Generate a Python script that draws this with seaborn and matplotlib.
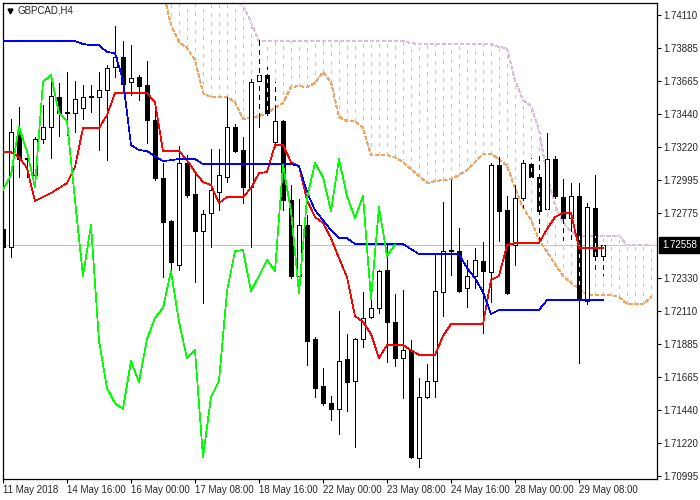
import matplotlib
matplotlib.use("Agg")
import matplotlib.pyplot as plt
import matplotlib.transforms as mtransforms
import numpy as np
import pandas as pd
import seaborn as sns

# GBPCAD H4 candles, bar 0 = leftmost bar
opens = [
    1.72664, 1.72543, 1.73320, 1.73144, 1.73029, 1.73272, 1.73354, 1.73556, 1.73448, 1.73448,
    1.73482, 1.73556, 1.73556, 1.73603, 1.73759, 1.73826, 1.73657, 1.73691, 1.73637, 1.73401,
    1.73009, 1.72718, 1.72421, 1.73110, 1.72901, 1.72651, 1.72772, 1.72914, 1.73015, 1.73354,
    1.73198, 1.72948, 1.73664, 1.73705, 1.73252, 1.73394, 1.72860, 1.72346, 1.72691, 1.71921,
    1.71603, 1.71488, 1.71448, 1.71786, 1.71637, 1.71921, 1.72070, 1.72130, 1.72387, 1.72036,
    1.71792, 1.71846, 1.71116, 1.71529, 1.71637, 1.72238, 1.72516, 1.72516, 1.72265, 1.72346,
    1.72448, 1.72374, 1.73096, 1.72792, 1.72556, 1.72874, 1.73103, 1.73015, 1.72799, 1.73137,
    1.72880, 1.72738, 1.72887, 1.72178, 1.72806, 1.72482]
highs = [
    1.72772, 1.73408, 1.73488, 1.73184, 1.73285, 1.73502, 1.73705, 1.73651, 1.73725, 1.73664,
    1.73637, 1.73637, 1.73725, 1.73772, 1.74036, 1.73934, 1.73907, 1.73705, 1.73799, 1.73529,
    1.73110, 1.72725, 1.73225, 1.73164, 1.73042, 1.72792, 1.73205, 1.73205, 1.73556, 1.73374,
    1.73285, 1.73684, 1.73941, 1.73759, 1.73657, 1.73401, 1.72961, 1.72867, 1.72759, 1.71934,
    1.71725, 1.71536, 1.72110, 1.71955, 1.71928, 1.72238, 1.72184, 1.72387, 1.72556, 1.72225,
    1.72252, 1.71914, 1.71657, 1.71752, 1.72488, 1.72847, 1.72995, 1.72671, 1.72455, 1.72536,
    1.72576, 1.73110, 1.73150, 1.72887, 1.72961, 1.73144, 1.73144, 1.73157, 1.73313, 1.73157,
    1.73002, 1.72975, 1.72975, 1.72840, 1.73029, 1.72563]
lows = [
    1.72238, 1.72475, 1.73015, 1.73015, 1.72948, 1.73245, 1.73144, 1.73292, 1.73299, 1.73320,
    1.73408, 1.73455, 1.73198, 1.73130, 1.73691, 1.73617, 1.73570, 1.73536, 1.73245, 1.72995,
    1.72340, 1.72374, 1.72387, 1.72880, 1.72306, 1.72164, 1.72543, 1.72792, 1.72982, 1.73184,
    1.72840, 1.72543, 1.73354, 1.73434, 1.73218, 1.72792, 1.72333, 1.72232, 1.71745, 1.71529,
    1.71475, 1.71373, 1.71279, 1.71434, 1.71191, 1.71867, 1.72063, 1.72097, 1.71765, 1.71738,
    1.71522, 1.71116, 1.71056, 1.71522, 1.71529, 1.72076, 1.72353, 1.72238, 1.72137, 1.72265,
    1.71961, 1.72171, 1.72583, 1.72225, 1.72421, 1.72813, 1.72995, 1.72590, 1.72779, 1.72874,
    1.72590, 1.72590, 1.71759, 1.72157, 1.72387, 1.72353]
closes = [
    1.72543, 1.73320, 1.73137, 1.73137, 1.73272, 1.73354, 1.73563, 1.73448, 1.73455, 1.73542,
    1.73556, 1.73563, 1.73603, 1.73752, 1.73826, 1.73644, 1.73684, 1.73630, 1.73401, 1.73009,
    1.72711, 1.72441, 1.73110, 1.72894, 1.72651, 1.72765, 1.72928, 1.73029, 1.73354, 1.73191,
    1.72948, 1.73657, 1.73705, 1.73448, 1.73394, 1.72860, 1.72346, 1.72691, 1.71908, 1.71590,
    1.71488, 1.71448, 1.71772, 1.71630, 1.71921, 1.72063, 1.72130, 1.72380, 1.72036, 1.71792,
    1.71846, 1.71123, 1.71529, 1.71637, 1.72245, 1.72516, 1.72522, 1.72245, 1.72346, 1.72455,
    1.72380, 1.73096, 1.72786, 1.72232, 1.72874, 1.73110, 1.73015, 1.72786, 1.73137, 1.72887,
    1.72738, 1.72887, 1.72191, 1.72813, 1.72482, 1.72558]

# Ichimoku lines
tenkan = [
    1.73184, 1.73184, 1.73150, 1.73076, 1.72853, 1.72880, 1.72907, 1.72941, 1.72975, 1.73083,
    1.73347, 1.73347, 1.73347, 1.73434, 1.73583, 1.73583, 1.73583, 1.73583, 1.73583, 1.73522,
    1.73191, 1.73191, 1.73191, 1.73130, 1.73049, 1.72982, 1.72961, 1.72840, 1.72880, 1.72880,
    1.72880, 1.72941, 1.73042, 1.73049, 1.73232, 1.73232, 1.73117, 1.73090, 1.72860, 1.72745,
    1.72705, 1.72603, 1.72468, 1.72340, 1.72076, 1.72036, 1.71955, 1.71792, 1.71880, 1.71880,
    1.71880, 1.71846, 1.71813, 1.71813, 1.71813, 1.71941, 1.72022, 1.72022, 1.72022, 1.72022,
    1.72022, 1.72319, 1.72346, 1.72556, 1.72570, 1.72570, 1.72570, 1.72570, 1.72664, 1.72745,
    1.72772, 1.72772, 1.72536, 1.72536, 1.72536, 1.72536]
kijun = [
    1.73934, 1.73934, 1.73934, 1.73934, 1.73934, 1.73934, 1.73934, 1.73934, 1.73934, 1.73934,
    1.73914, 1.73907, 1.73907, 1.73860, 1.73853, 1.73671, 1.73232, 1.73198, 1.73191, 1.73157,
    1.73123, 1.73130, 1.73137, 1.73137, 1.73137, 1.73103, 1.73103, 1.73103, 1.73103, 1.73103,
    1.73103, 1.73103, 1.73103, 1.73103, 1.73103, 1.73103, 1.73103, 1.73090, 1.72914, 1.72792,
    1.72725, 1.72657, 1.72603, 1.72603, 1.72563, 1.72563, 1.72563, 1.72563, 1.72563, 1.72563,
    1.72563, 1.72529, 1.72495, 1.72495, 1.72495, 1.72495, 1.72495, 1.72495, 1.72401, 1.72333,
    1.72238, 1.72090, 1.72117, 1.72117, 1.72117, 1.72117, 1.72117, 1.72117, 1.72184, 1.72184,
    1.72184, 1.72184, 1.72184, 1.72184, 1.72184, 1.72184]
span_first_bar = 20
span_a = [
    1.74279, 1.74043, 1.73928, 1.73887, 1.73806, 1.73583, 1.73556, 1.73556, 1.73556, 1.73522,
    1.73408, 1.73414, 1.73428, 1.73448, 1.73482, 1.73515, 1.73624, 1.73630, 1.73624, 1.73651,
    1.73725, 1.73657, 1.73421, 1.73394, 1.73394, 1.73347, 1.73164, 1.73164, 1.73164, 1.73150,
    1.73117, 1.73069, 1.73022, 1.72975, 1.72988, 1.72995, 1.73002, 1.73029, 1.73063, 1.73117,
    1.73171, 1.73171, 1.73137, 1.73090, 1.72941, 1.72806, 1.72725, 1.72590, 1.72509, 1.72428,
    1.72346, 1.72299, 1.72265, 1.72218, 1.72218, 1.72218, 1.72218, 1.72205, 1.72157, 1.72157,
    1.72157, 1.72205]
span_b = [
    1.74414, 1.74414, 1.74414, 1.74414, 1.74414, 1.74414, 1.74414, 1.74414, 1.74414, 1.74205,
    1.74178, 1.74063, 1.73934, 1.73934, 1.73934, 1.73934, 1.73934, 1.73934, 1.73934, 1.73934,
    1.73934, 1.73934, 1.73934, 1.73934, 1.73934, 1.73934, 1.73934, 1.73934, 1.73934, 1.73934,
    1.73934, 1.73921, 1.73914, 1.73914, 1.73914, 1.73914, 1.73914, 1.73914, 1.73914, 1.73914,
    1.73914, 1.73914, 1.73894, 1.73887, 1.73671, 1.73536, 1.73495, 1.73333, 1.73029, 1.72826,
    1.72711, 1.72644, 1.72617, 1.72617, 1.72617, 1.72617, 1.72617, 1.72617, 1.72556, 1.72556,
    1.72556, 1.72556]
chikou_shift = 26

date_ticks = [0, 8, 16, 24, 32, 40, 48, 56, 64, 72]
date_labels = ["11 May 2018", "14 May 16:00", "16 May 00:00", "17 May 08:00",
               "18 May 16:00", "22 May 00:00", "23 May 08:00", "24 May 16:00",
               "28 May 00:00", "29 May 08:00"]
price_ticks = [1.74110, 1.73885, 1.73665, 1.73440, 1.73220, 1.72995, 1.72775,
               1.72330, 1.72110, 1.71885, 1.71665, 1.71440, 1.71220, 1.70995]
price_labels = ["1.74110", "1.73885", "1.73665", "1.73440", "1.73220", "1.72995", "1.72775",
                "1.72330", "1.72110", "1.71885", "1.71665", "1.71440", "1.71220", "1.70995"]
last_price = 1.72558
symbol = "GBPCAD,H4"

sns.set_style("white")
plt.rcParams["font.family"] = ["Liberation Sans", "DejaVu Sans"]
plt.rcParams["lines.scale_dashes"] = False

LW = 0.7       # one screen pixel for wicks / hatch
LINE_LW = 0.5  # indicator lines, still one pixel when not antialiased

df = pd.DataFrame({"open": opens, "high": highs, "low": lows, "close": closes})
df["bar"] = np.arange(len(df))
df["up"] = df["close"] >= df["open"]

span_x = np.arange(span_first_bar, span_first_bar + len(span_a))

fig = plt.figure(figsize=(7, 5), dpi=100)
ax = fig.add_axes([2.5 / 700, 21 / 500, 654.5 / 700, 476.5 / 500])
ax.set_xlim(-0.06, 81.75)
ax.set_ylim(1.70975, 1.74195)

# current price line
ax.axhline(last_price, color="#c0c0c0", lw=LW, zorder=1, antialiased=False)

# cloud hatching (thistle), dashed vertical line on every bar
ax.vlines(span_x, span_a, span_b, colors="#d8bfd8", lw=LW,
          linestyles=[(0, (3.6, 2.2))], zorder=1.5, antialiased=False)
ax.plot(span_x, span_a, color="#f4a460", lw=LINE_LW, ls=(0, (2.5, 1.6)), zorder=1.6,
        antialiased=False)
ax.plot(span_x, span_b, color="#d8bfd8", lw=LINE_LW, ls=(0, (2.5, 1.6)), zorder=1.6,
        antialiased=False)

# candles
ax.vlines(df["bar"], df["low"], df["high"], colors="black", lw=LW, zorder=2,
          antialiased=False)
body_lo = df[["open", "close"]].min(axis=1)
body_h = (df["close"] - df["open"]).abs()
ax.bar(df["bar"], body_h, bottom=body_lo, width=0.55,
       color=np.where(df["up"], "white", "black"), edgecolor="black",
       linewidth=LW, zorder=2.1, antialiased=False)

# gaps of the hatch dashes are drawn over the candles, like the terminal does
ax.vlines(span_x, span_a, span_b, colors="white", lw=LW,
          linestyles=[(3.6, (2.2, 3.6))], zorder=2.5, antialiased=False)

# tenkan / kijun / chikou
sns.lineplot(x=df["bar"], y=tenkan, color="#ff0000", lw=LINE_LW, ax=ax, zorder=3,
             antialiased=False)
sns.lineplot(x=df["bar"], y=kijun, color="#0000ff", lw=LINE_LW, ax=ax, zorder=3,
             antialiased=False)
# chikou = close drawn 26 bars back
sns.lineplot(x=df["bar"][:-chikou_shift].values, y=df["close"][chikou_shift:].values,
             color="#00ff00", lw=LINE_LW, ax=ax, zorder=3, antialiased=False)

for side in ["left", "right", "top", "bottom"]:
    ax.spines[side].set_visible(True)
    ax.spines[side].set_color("black")
    ax.spines[side].set_linewidth(0.9)

ax.set_xlabel("")
ax.set_ylabel("")
ax.yaxis.tick_right()
ax.set_yticks(price_ticks, price_labels, fontsize=7)
ax.set_xticks(date_ticks, date_labels, fontsize=7, ha="left")
ax.tick_params(axis="y", which="both", right=True, left=False, length=3,
               width=0.8, pad=1.5, color="black")
ax.tick_params(axis="x", which="both", bottom=True, length=3,
               width=0.8, pad=1.5, color="black")
ax.grid(False)

# price tag on the right scale
tag_tr = mtransforms.blended_transform_factory(ax.transAxes, ax.transData)
ax.text(1.0 + 5 / 654.5, last_price, "1.72558", transform=tag_tr, fontsize=7,
        color="white", va="center", ha="left", clip_on=False,
        bbox=dict(boxstyle="square,pad=0.3", fc="black", ec="black"))

# symbol caption top left
fig.text(18 / 700, 1 - 10.5 / 500, symbol, fontsize=7, va="center", ha="left")
fig.lines.append(plt.Line2D([9.5 / 700], [1 - 10.5 / 500], marker="v", markersize=3.5,
                            color="black", transform=fig.transFigure))

fig.savefig("out.png", dpi=100)
